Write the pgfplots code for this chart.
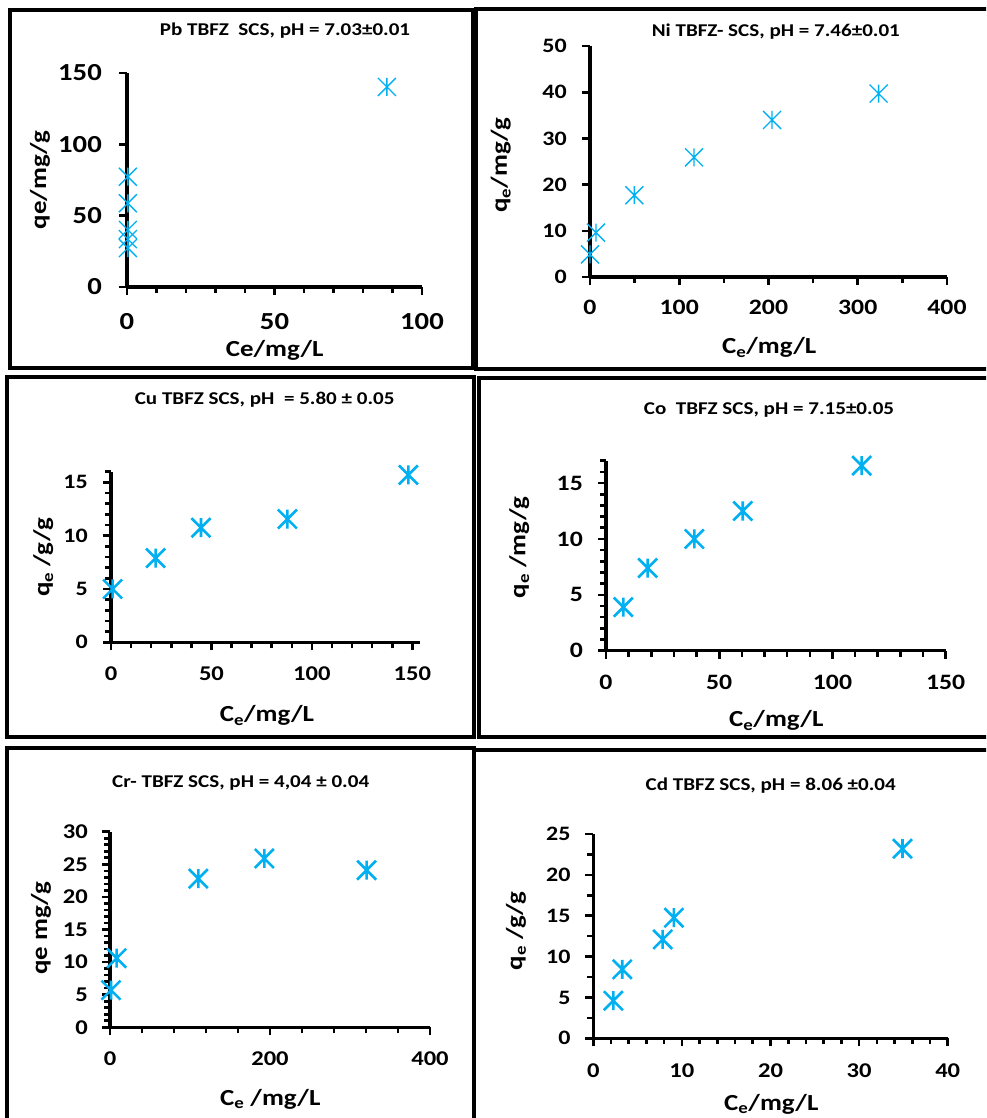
\documentclass[border=0pt]{standalone}
\usepackage{fontspec}
\setmainfont{Carlito}[FakeStretch=1.17]
\usepackage{pgfplots}
\pgfplotsset{compat=1.18}

\definecolor{markblue}{RGB}{0,176,240}

% Excel-like star marker: a cross with a vertical bar through it
\pgfdeclareplotmark{xstar}{%
  \pgfpathmoveto{\pgfqpoint{-\pgfplotmarksize}{-\pgfplotmarksize}}%
  \pgfpathlineto{\pgfqpoint{\pgfplotmarksize}{\pgfplotmarksize}}%
  \pgfpathmoveto{\pgfqpoint{-\pgfplotmarksize}{\pgfplotmarksize}}%
  \pgfpathlineto{\pgfqpoint{\pgfplotmarksize}{-\pgfplotmarksize}}%
  \pgfpathmoveto{\pgfqpoint{0pt}{-\pgfplotmarksize}}%
  \pgfpathlineto{\pgfqpoint{0pt}{\pgfplotmarksize}}%
  \pgfusepathqstroke}

\newcommand\ttl{\fontsize{18}{20}\selectfont\bfseries}
\newcommand\lbl{\fontsize{23}{25}\selectfont\bfseries}

\pgfplotsset{
  panel/.style={
    scale only axis, anchor=south west, clip=false,
    axis x line=bottom, axis y line=left,
    axis line style={line width=3.3pt, -, black},
    tick align=outside,
    major tick length=8pt, minor tick length=6pt,
    tick style={line width=2.6pt, black},
    xmin=0, ymin=0,
    scaled ticks=false,
    /pgf/number format/assume math mode=true,
    /pgf/number format/1000 sep={},
    xticklabel style={anchor=north, inner sep=0pt},
    yticklabel style={anchor=east, inner sep=0pt},
  },
  thinstar/.style={only marks, mark=xstar, mark size=9pt, color=markblue,
    mark options={line width=1.3pt}},
  thickstar/.style={only marks, mark=xstar, mark size=9.5pt, color=markblue,
    mark options={line width=2.6pt}},
}

\begin{document}
\begin{tikzpicture}
\useasboundingbox (0,0) rectangle (986pt,-1118pt);
\clip (0,0) rectangle (986pt,-1118pt);

% ---------------- Pb ----------------
\begin{axis}[panel, at={(127pt,-287pt)}, width=295pt, height=214pt,
  xmax=100, ymax=150,
  xtick={0,50,100}, minor xtick={10,20,30,40,60,70,80,90},
  ytick={0,50,100,150},
  xticklabel style={font=\fontsize{24.5}{26}\selectfont\bfseries, yshift=-18pt},
  yticklabel style={font=\fontsize{24.5}{26}\selectfont\bfseries, xshift=-17pt}]
\addplot[thinstar] coordinates {
  (0.3,77.3) (0.3,58.7) (0.3,40.0) (0.3,33.6) (0.3,27.3) (88.1,140.2)};
\end{axis}

% ---------------- Ni ----------------
\begin{axis}[panel, at={(590pt,-277pt)}, width=357pt, height=231pt,
  xmax=400, ymax=50,
  xtick={0,100,...,400}, minor xtick={50,150,250,350},
  ytick={0,10,...,50},
  xticklabel style={font=\fontsize{22}{24}\selectfont\bfseries, yshift=-15pt},
  yticklabel style={font=\fontsize{20.5}{22}\selectfont\bfseries, xshift=-15pt}]
\addplot[thinstar] coordinates {
  (0,4.9) (6.7,9.6) (49.7,17.7) (116.6,25.9) (204,34.0) (323.4,39.7)};
\end{axis}

% ---------------- Cu ----------------
\begin{axis}[panel, at={(111pt,-642.3pt)}, width=309.4pt, height=170.6pt,
  xmax=154, ymax=16,
  xtick={0,50,100,150}, minor xtick={10,20,...,140},
  ytick={0,5,10,15}, minor ytick={1,2,...,16},
  xticklabel style={font=\fontsize{21}{23}\selectfont\bfseries, yshift=-16pt},
  yticklabel style={font=\fontsize{20.5}{22}\selectfont\bfseries, xshift=-15pt}]
\addplot[thickstar] coordinates {
  (0.8,5.0) (22.2,7.9) (44.8,10.75) (87.8,11.56) (148,15.7)};
\end{axis}

% ---------------- Co ----------------
\begin{axis}[panel, at={(606pt,-650.7pt)}, width=339.7pt, height=190pt,
  xmax=150, ymax=17,
  xtick={0,50,100,150}, minor xtick={10,20,...,140},
  ytick={0,5,10,15}, minor ytick={1,2,...,17},
  xticklabel style={font=\fontsize{22}{24}\selectfont\bfseries, yshift=-16pt},
  yticklabel style={font=\fontsize{22}{24}\selectfont\bfseries, xshift=-15pt}]
\addplot[thickstar] coordinates {
  (7.65,3.9) (18.4,7.4) (39.0,10.0) (60.4,12.5) (112.9,16.56)};
\end{axis}

% ---------------- Cr ----------------
\begin{axis}[panel, at={(110pt,-1027.3pt)}, width=320pt, height=195.6pt,
  xmax=400, ymax=30,
  xtick={0,200,400}, minor xtick={40,80,120,160,240,280,320,360},
  ytick={0,5,...,30}, minor ytick={1,2,...,29},
  xticklabel style={font=\fontsize{21}{23}\selectfont\bfseries, yshift=-16pt},
  yticklabel style={font=\fontsize{21}{23}\selectfont\bfseries, xshift=-14pt}]
\addplot[thickstar] coordinates {
  (1.25,5.7) (8.3,10.6) (110.4,22.8) (192.9,25.9) (320.8,24.1)};
\end{axis}

% ---------------- Cd ----------------
\begin{axis}[panel, at={(593.3pt,-1038.3pt)}, width=354.4pt, height=204.3pt,
  xmax=40, ymax=25,
  xtick={0,10,...,40}, minor xtick={2,4,...,38},
  ytick={0,5,...,25}, minor ytick={2.5,7.5,12.5,17.5,22.5},
  xticklabel style={font=\fontsize{21}{23}\selectfont\bfseries, yshift=-17pt},
  yticklabel style={font=\fontsize{20.5}{22}\selectfont\bfseries, xshift=-14.6pt}]
\addplot[thickstar] coordinates {
  (2.26,4.6) (3.27,8.44) (7.83,12.1) (9.1,14.76) (34.9,23.2)};
\end{axis}

% ---------------- frames, titles and axis labels ----------------
\begin{scope}[x=1pt, y=-1pt, line width=3.3pt]
  \draw (10,10) rectangle (473,368);
  \draw (476,9) rectangle (995,369);
  \draw (7,377) rectangle (474,737);
  \draw (479,378) rectangle (995,737);
  \draw (7,748) rectangle (474,1130);
  \draw (474,750) rectangle (995,1130);

  \node[anchor=base, inner sep=0pt, font=\ttl] at (285,35.5) {Pb TBFZ\ \ SCS, pH = 7.03±0.01};
  \node[anchor=base, inner sep=0pt, font=\ttl] at (775.8,36.7) {Ni TBFZ- SCS, pH = 7.46±0.01};
  \node[anchor=base, inner sep=0pt, font=\ttl] at (264.7,404.3) {Cu TBFZ SCS, pH\ \ = 5.80 ± 0.05};
  \node[anchor=base, inner sep=0pt, font=\ttl] at (769,414) {Co\ \ TBFZ SCS, pH = 7.15±0.05};
  \node[anchor=base, inner sep=0pt, font=\ttl] at (240.7,787.3) {Cr- TBFZ SCS, pH = 4,04 ± 0.04};
  \node[anchor=base, inner sep=0pt, font=\ttl] at (770.7,790.7) {Cd TBFZ SCS, pH = 8.06 ±0.04};

  \node[anchor=base, inner sep=0pt, font=\lbl] at (274.7,356.7) {Ce/mg/L};
  \node[anchor=base, inner sep=0pt, font=\lbl] at (769.2,353.3) {C\textsubscript{e}/mg/L};
  \node[anchor=base, inner sep=0pt, font=\lbl] at (267,721.7) {C\textsubscript{e}/mg/L};
  \node[anchor=base, inner sep=0pt, font=\lbl] at (776.3,726.7) {C\textsubscript{e}/mg/L};
  \node[anchor=base, inner sep=0pt, font=\lbl] at (270.3,1105) {C\textsubscript{e} /mg/L};
  \node[anchor=base, inner sep=0pt, font=\lbl] at (771.3,1110) {C\textsubscript{e}/mg/L};

  \node[rotate=90, inner sep=0pt, font=\lbl] at (40,180) {qe/mg/g};
  \node[rotate=90, inner sep=0pt, font=\lbl] at (500.8,165) {q\textsubscript{e}/mg/g};
  \node[rotate=90, inner sep=0pt, font=\lbl] at (43.3,557.5) {q\textsubscript{e} /g/g};
  \node[rotate=90, inner sep=0pt, font=\lbl] at (519.2,547.5) {q\textsubscript{e} /mg/g};
  \node[rotate=90, inner sep=0pt, font=\lbl] at (41,928.3) {qe mg/g};
  \node[rotate=90, inner sep=0pt, font=\lbl] at (516,930.8) {q\textsubscript{e} /g/g};
\end{scope}
\end{tikzpicture}
\end{document}
